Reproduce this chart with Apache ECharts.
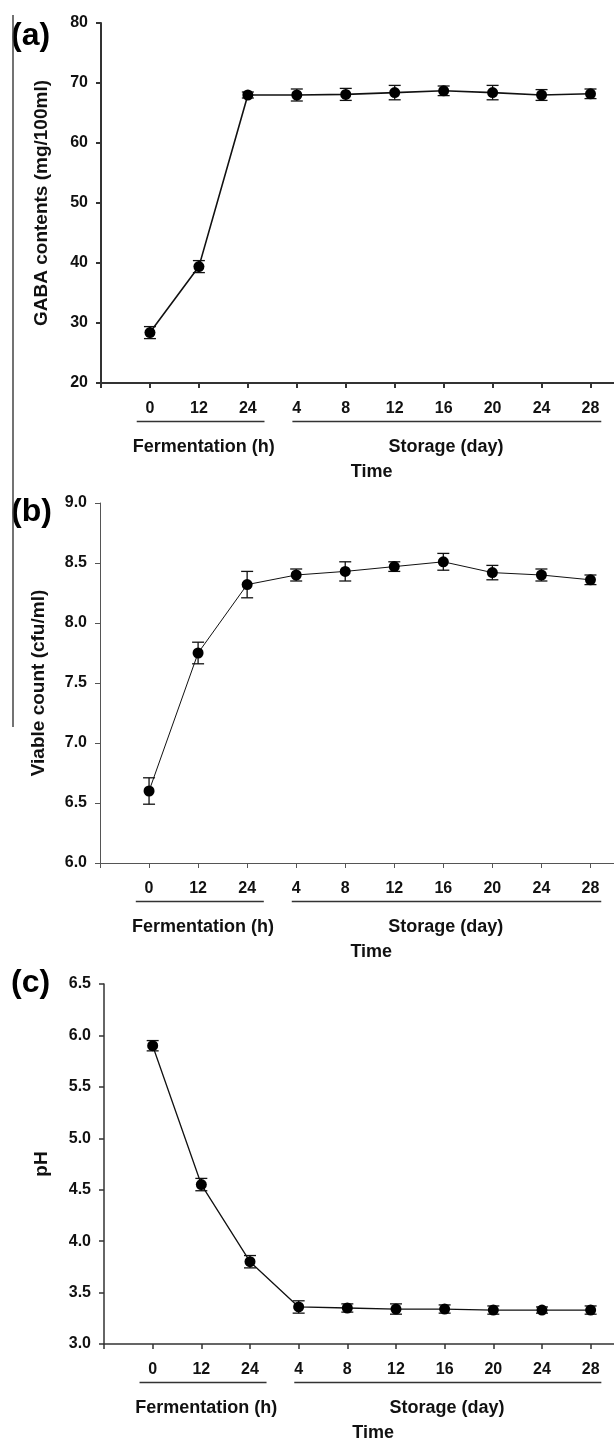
<!DOCTYPE html>
<html>
<head>
<meta charset="utf-8">
<script src="https://cdn.jsdelivr.net/npm/echarts@6/dist/echarts.min.js"></script>
<style>
  html, body { margin: 0; padding: 0; background: #fff; }
  #main { width: 614px; height: 1438px; }
</style>
</head>
<body>
<div id="main"></div>
<script>
// x categories (fermentation hours, then storage days)
var timeLabels = ['0', '12', '24', '4', '8', '12', '16', '20', '24', '28'];
var groupNames = ['Fermentation (h)', 'Storage (day)'];
var axisTitle = 'Time';

// (a) GABA
var gabaMean = [28.4, 39.4, 68.0, 68.0, 68.1, 68.4, 68.7, 68.4, 68.0, 68.2];
var gabaErr = [1.0, 1.0, 0.5, 1.0, 1.0, 1.2, 0.8, 1.2, 0.9, 0.8];
// (b) viable count
var viableMean = [6.60, 7.75, 8.32, 8.40, 8.43, 8.47, 8.51, 8.42, 8.40, 8.36];
var viableErr = [0.11, 0.09, 0.11, 0.05, 0.08, 0.04, 0.07, 0.06, 0.05, 0.04];
// (c) pH
var phMean = [5.90, 4.55, 3.80, 3.36, 3.35, 3.34, 3.34, 3.33, 3.33, 3.33];
var phErr = [0.05, 0.06, 0.06, 0.06, 0.04, 0.05, 0.04, 0.04, 0.03, 0.04];

var FONT = '"Liberation Sans", Arial, sans-serif';

var panels = [
    {tag: '(a)', name: 'GABA contents (mg/100ml)', mean: gabaMean, err: gabaErr, min: 20, max: 80, step: 10, dec: 0,
        left: 101, top: 23, bottom: 383, nameGap: 50, lw: 1.6, axisW: 2, axisC: '#333', tagY: 36},
    {tag: '(b)', name: 'Viable count (cfu/ml)', mean: viableMean, err: viableErr, min: 6, max: 9, step: 0.5, dec: 1,
        left: 100, top: 503, bottom: 863, nameGap: 52, lw: 1, axisW: 1, axisC: '#555', tagY: 512},
    {tag: '(c)', name: 'pH', mean: phMean, err: phErr, min: 3, max: 6.5, step: 0.5, dec: 1,
        left: 104, top: 984, bottom: 1344, nameGap: 53, lw: 1.3, axisW: 1.5, axisC: '#333', tagY: 983}
];

var tickIdx = [-1, 0, 1, 2, 3, 4, 5, 6, 7, 8, 9];
var labelIdx = [0, 1, 2, 3, 4, 5, 6, 7, 8, 9];

function errItem(params, api) {
    var x = api.value(0);
    var top = api.coord([x, api.value(2)]);
    var bot = api.coord([x, api.value(1)]);
    var hw = 6;
    var st = {stroke: '#111', lineWidth: 1.3};
    return {
        type: 'group',
        children: [
            {type: 'line', shape: {x1: top[0], y1: top[1], x2: bot[0], y2: bot[1]}, style: st},
            {type: 'line', shape: {x1: top[0] - hw, y1: top[1], x2: top[0] + hw, y2: top[1]}, style: st},
            {type: 'line', shape: {x1: bot[0] - hw, y1: bot[1], x2: bot[0] + hw, y2: bot[1]}, style: st}
        ]
    };
}

var grids = [], xAxes = [], yAxes = [], series = [];
panels.forEach(function (p, i) {
    grids.push({left: p.left, right: 0, top: p.top, height: p.bottom - p.top, containLabel: false});
    xAxes.push({
        type: 'value', gridIndex: i, min: -1, max: 9.48,
        axisLine: {show: true, onZero: false, lineStyle: {color: p.axisC, width: p.axisW}},
        axisTick: {show: true, length: 5, customValues: tickIdx, lineStyle: {color: p.axisC, width: p.axisW}},
        axisLabel: {
            customValues: labelIdx, margin: 18,
            fontFamily: FONT, fontWeight: 'bold', fontSize: 16, color: '#111',
            formatter: function (v) { return timeLabels[Math.round(v)]; }
        },
        splitLine: {show: false}
    });
    yAxes.push({
        type: 'value', gridIndex: i, min: p.min, max: p.max, interval: p.step,
        name: p.name, nameLocation: 'middle', nameGap: p.nameGap,
        nameTextStyle: {fontFamily: FONT, fontWeight: 'bold', fontSize: 19, color: '#111'},
        axisLine: {show: true, onZero: false, lineStyle: {color: p.axisC, width: p.axisW}},
        axisTick: {show: true, length: 5, lineStyle: {color: p.axisC, width: p.axisW}},
        axisLabel: {
            margin: 13, fontFamily: FONT, fontWeight: 'bold', fontSize: 16, color: '#111',
            formatter: function (v) { return v.toFixed(p.dec); }
        },
        splitLine: {show: false}
    });
    var errData = p.mean.map(function (m, k) { return [k, m - p.err[k], m + p.err[k]]; });
    series.push({
        type: 'custom', xAxisIndex: i, yAxisIndex: i, z: 1,
        renderItem: errItem, data: errData, encode: {x: 0, y: [1, 2]}, silent: true
    });
    series.push({
        type: 'line', xAxisIndex: i, yAxisIndex: i, z: 3,
        data: p.mean.map(function (m, k) { return [k, m]; }),
        symbol: 'circle', symbolSize: 11,
        itemStyle: {color: '#000'},
        lineStyle: {color: '#111', width: p.lw},
        animation: false, silent: true
    });
});

var chart = echarts.init(document.getElementById('main'));
chart.setOption({
    animation: false,
    backgroundColor: '#fff',
    grid: grids, xAxis: xAxes, yAxis: yAxes, series: series
});

// group underlines, group labels, axis title, panel tags
var spans = [[-0.27, 2.34], [2.91, 9.22]];
var groupCenters = [1.1, 6.05];
var timeCenter = 4.53;
var graphics = [];
panels.forEach(function (p, i) {
    var yAx = p.bottom;
    spans.forEach(function (s, g) {
        var a = chart.convertToPixel({xAxisIndex: i}, s[0]);
        var b = chart.convertToPixel({xAxisIndex: i}, s[1]);
        graphics.push({type: 'line', shape: {x1: a, y1: yAx + 38.5, x2: b, y2: yAx + 38.5},
            style: {stroke: '#333', lineWidth: 1.5}});
        graphics.push({type: 'text', x: chart.convertToPixel({xAxisIndex: i}, groupCenters[g]), y: yAx + 64,
            style: {text: groupNames[g], font: 'bold 18px ' + FONT, fill: '#111', textAlign: 'center', textVerticalAlign: 'middle'}});
    });
    graphics.push({type: 'text', x: chart.convertToPixel({xAxisIndex: i}, timeCenter), y: yAx + 89,
        style: {text: axisTitle, font: 'bold 18px ' + FONT, fill: '#111', textAlign: 'center', textVerticalAlign: 'middle'}});
    graphics.push({type: 'text', x: 11, y: p.tagY,
        style: {text: p.tag, font: 'bold 32px ' + FONT, fill: '#000', textAlign: 'left', textVerticalAlign: 'middle'}});
});
// stray vertical rule at the left edge of the figure
graphics.push({type: 'line', shape: {x1: 13, y1: 15, x2: 13, y2: 727}, style: {stroke: '#444', lineWidth: 1.5}});
chart.setOption({graphic: graphics});
</script>
</body>
</html>
